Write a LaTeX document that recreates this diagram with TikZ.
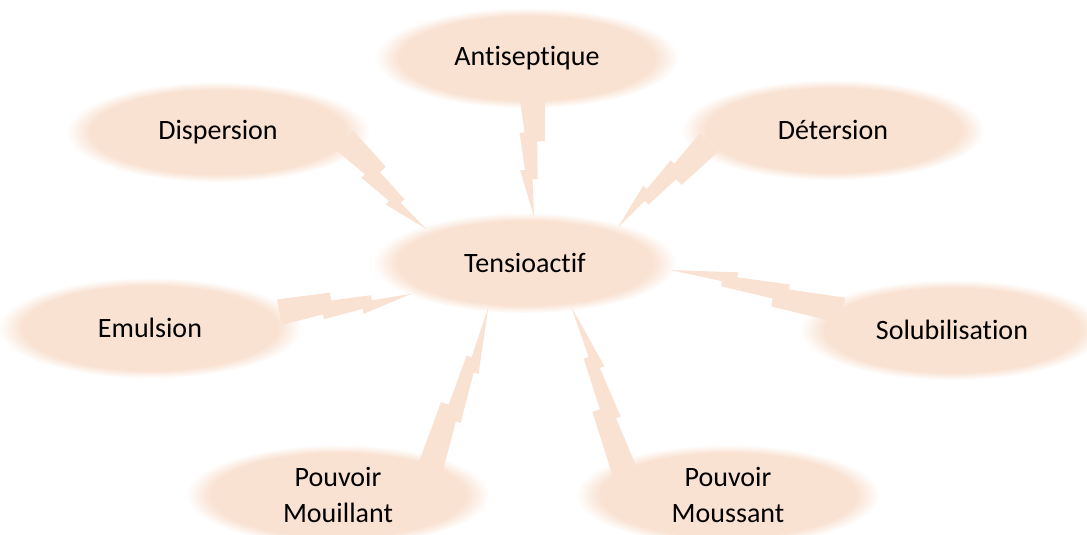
\documentclass[tikz,border=0pt]{standalone}
\usepackage{fontspec}
\setmainfont[Ligatures={NoCommon}]{Carlito}
\usetikzlibrary{shapes.geometric,calc,fadings,backgrounds}

\definecolor{peach}{RGB}{250,226,210}

% soft edge of the bubbles
\pgfdeclareradialshading{softshade}{\pgfpointorigin}{color(0bp)=(white); color(21bp)=(white); color(25bp)=(black); color(50bp)=(black)}
\pgfdeclarefading{softedge}{\pgfuseshading{softshade}}

\tikzset{
  bubble/.style={ellipse, fill=peach, path fading=softedge, minimum width=302pt, minimum height=100pt, inner sep=0pt, align=center, font=\fontsize{28}{36}\selectfont},
  boltfill/.style={fill=peach}
}

% lightning bolt, wide at #1, point at #2
\newcommand{\eclair}[2]{%
  \coordinate (a) at ($(#1)!-16pt!(#2)$);
  \coordinate (b) at ($(#2)!-4pt!(#1)$);
  \fill[boltfill] ($(a)!19pt!90:(b)$)
    -- ($(a)!0.40!(b)!16pt!90:(b)$) -- ($(a)!0.40!(b)!8pt!90:(b)$)
    -- ($(a)!0.70!(b)!6pt!90:(b)$) -- ($(a)!0.70!(b)!0.8pt!90:(b)$)
    -- (b)
    -- ($(a)!0.62!(b)!-11pt!90:(b)$) -- ($(a)!0.62!(b)!-6pt!90:(b)$)
    -- ($(a)!0.32!(b)!-9pt!90:(b)$) -- ($(a)!0.32!(b)!-4pt!90:(b)$)
    -- ($(a)!-7pt!90:(b)$) -- cycle;}

\begin{document}
\begin{tikzpicture}[x=1pt,y=-1pt]
\useasboundingbox (0,0) rectangle (1087,535);

\node[bubble] (ten) at (525,263) {Tensioactif};
\node[bubble] (ant) at (527,58) {Antiseptique};
\node[bubble] (dis) at (218,132) {Dispersion};
\node[bubble] (det) at (833,130) {Détersion};
\node[bubble] (emu) at (150,328) {Emulsion};
\node[bubble] (sol) at (952,330) {Solubilisation};
\node[bubble] (mou) at (338,495) {Pouvoir\\Mouillant};
\node[bubble] (mos) at (728,495) {Pouvoir\\Moussant};

\begin{pgfonlayer}{background}
\fill[white] (0,0) rectangle (1087,535);
\eclair{ant.-90}{ten.80}
\eclair{dis.-10}{ten.160}
\eclair{det.188}{ten.22}
\eclair{emu.5}{ten.195}
\eclair{sol.167}{ten.-3}
\eclair{mou.20}{ten.232}
\eclair{mos.160}{ten.-45}
\end{pgfonlayer}
\end{tikzpicture}
\end{document}
